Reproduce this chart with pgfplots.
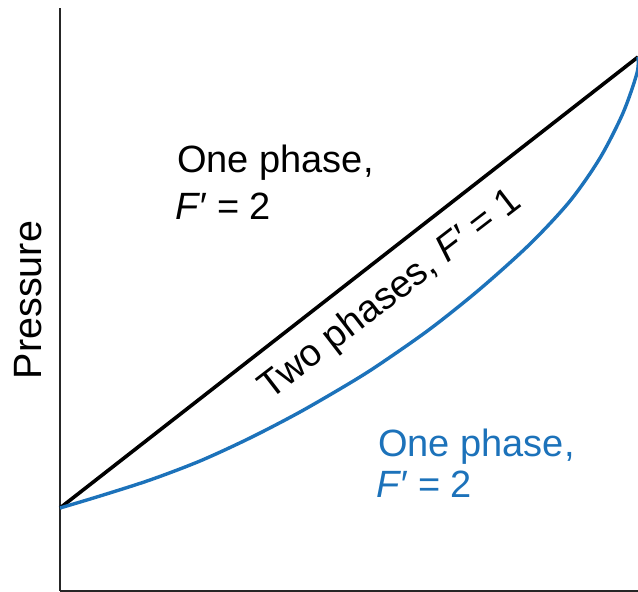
\documentclass[border=0pt]{standalone}
\usepackage{pgfplots}
\pgfplotsset{compat=1.18}
\usepackage{fontspec}
\setmainfont{Liberation Sans}
\definecolor{phaseblue}{RGB}{28,114,186}
\tikzset{bigtxt/.style={inner sep=0pt, font=\fontsize{38}{44}\selectfont}}
\begin{document}
\begin{tikzpicture}
\begin{axis}[
  scale only axis,
  width=578pt, height=583pt,
  xmin=0, xmax=578, ymin=0, ymax=583,
  axis x line*=bottom, axis y line*=left,
  axis line style={-, line width=2pt, draw=black!85},
  xtick=\empty, ytick=\empty,
  clip=false,
]
\addplot[black, line width=3.6pt] coordinates {(0,83) (578,534)};
\addplot[phaseblue, line width=3.4pt, smooth] coordinates {
(0,83) (40,95) (90,111) (140,130) (190,153) (240,179) (290,208) (320,227)
(370,262) (420,302) (470,347) (510,390) (540,433) (563,478) (577,518) (578,534)};
\node[bigtxt, anchor=base west] at (axis cs:117,418) {One phase,};
\node[bigtxt, anchor=base west] at (axis cs:115,371) {\textit{F′} = 2};
\node[bigtxt, anchor=base west, text=phaseblue] at (axis cs:318,134) {One phase,};
\node[bigtxt, anchor=base west, text=phaseblue] at (axis cs:316,93) {\textit{F′} = 2};
\node[bigtxt, anchor=base, rotate=37.6] at (axis cs:337,288) {Two phases, \textit{F′} = 1};
\node[inner sep=0pt, anchor=base, rotate=90, font=\fontsize{39.5}{44}\selectfont] at (axis cs:-18,291) {Pressure};
\end{axis}
\pgfresetboundingbox
\useasboundingbox (-60pt,-1pt) rectangle (578pt,591pt);
\end{tikzpicture}
\end{document}
